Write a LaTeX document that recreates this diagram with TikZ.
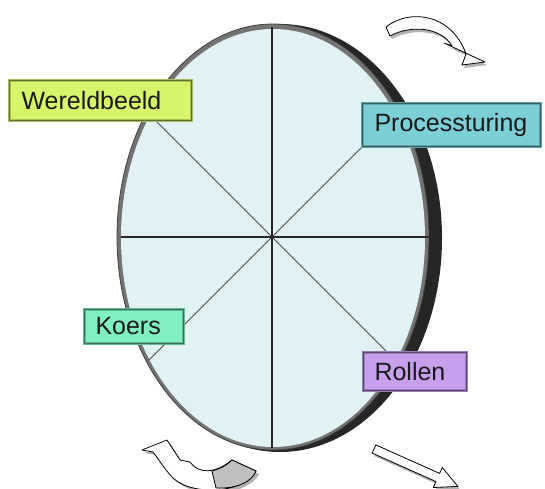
\documentclass[tikz,border=0pt]{standalone}
\usepackage{fontspec}
\setmainfont{Liberation Sans}
\definecolor{wbfill}{HTML}{D6F56B}
\definecolor{psfill}{HTML}{7DCFD6}
\definecolor{kofill}{HTML}{7FF0C0}
\definecolor{rofill}{HTML}{C6A0EC}
\definecolor{disc}{HTML}{E1F2F4}
\begin{document}
\begin{tikzpicture}[x=1pt,y=-1pt,
  lbl/.style={draw=#1!78!black, fill=#1, line width=2.4pt, inner ysep=0pt, inner xsep=12pt,
    align=left, font=\fontsize{25}{30}\selectfont, text=black!90,
    postaction={draw=#1!45!black, line width=0.6pt}},
  arrowbody/.style={fill=white, draw=black, line width=0.8pt, line join=round},
  arrowshadow/.style={fill=black!30},
  spoke/.style={draw=black!70, line width=0.8pt},
  axis/.style={draw=black!85, line width=2.2pt}]
\useasboundingbox (0,0) rectangle (545,488);
% disc
\fill[black!85] (280,238) ellipse [x radius=162, y radius=214];
\fill[black!55, draw=black!75, line width=0.8pt] (273,237) ellipse [x radius=156, y radius=213];
\fill[disc] (273,238) ellipse [x radius=152, y radius=209];
\coordinate (c) at (272,237);
\coordinate (top) at (272,27);
\coordinate (bot) at (272,448);
\coordinate (lft) at (121,237);
\coordinate (rgt) at (431,237);
\coordinate (ul) at (149,114);
\coordinate (ur) at (395,114);
\coordinate (ll) at (149,360);
\coordinate (lr) at (395,360);
\draw[spoke] (c) -- (ul);
\draw[spoke] (c) -- (ur);
\draw[spoke] (c) -- (ll);
\draw[spoke] (c) -- (lr);
\draw[axis] (top) -- (bot);
\draw[axis, line width=2pt] (lft) -- (rgt);
% labels
\node[lbl=wbfill, text width=158pt, minimum height=40pt] (wb) at (100.5,100.5) {Wereldbeeld};
\node[lbl=psfill, inner xsep=12pt, text width=154pt, minimum height=43pt] (ps) at (451.5,125) {Processturing};
\node[lbl=kofill, inner xsep=11pt, text width=77pt, minimum height=34pt] (ko) at (134,326.5) {Koers};
\node[lbl=rofill, inner xsep=11pt, text width=81pt, minimum height=38pt] (ro) at (415,371.5) {Rollen};
% top curved arrow
\begin{scope}[shift={(2,3)}]
\fill[arrowshadow] (386,27) .. controls (410,8) and (452,14) .. (466,54) -- (462,65) -- (485,62) -- (444,43) -- (452,46) .. controls (442,28) and (412,24) .. (390,36) -- cycle;
\end{scope}
\draw[arrowbody] (386,27) .. controls (410,8) and (452,14) .. (466,54) -- (462,65) -- (485,62) -- (444,43) -- (452,46) .. controls (442,28) and (412,24) .. (390,36) -- cycle;
% bottom-left curved arrow
\begin{scope}[shift={(3,3)}]
\fill[arrowshadow] (142,450) -- (167,440) -- (180,460) -- (190,462) .. controls (198,474) and (215,474) .. (232,460) -- (256,471) .. controls (246,492) and (196,497) .. (174,479) .. controls (164,469) and (158,458) .. (153,452) -- cycle;
\end{scope}
\draw[arrowbody] (142,450) -- (167,440) -- (180,460) -- (190,462) .. controls (198,474) and (215,474) .. (232,460) -- (256,471) .. controls (246,492) and (196,497) .. (174,479) .. controls (164,469) and (158,458) .. (153,452) -- cycle;
\draw[fill=black!25, draw=black, line width=0.8pt, line join=round] (212,471) .. controls (222,468) and (227,465) .. (232,460) -- (256,471) .. controls (252,482) and (236,489) .. (216,488) -- cycle;
% bottom-right straight arrow
\begin{scope}[shift={(2,3)}]
\fill[arrowshadow] (372.2,453.1) -- (375.8,444.9) -- (439.6,473.4) -- (442.3,467.5) -- (457.9,486.4) -- (433.3,487.5) -- (436,481.6) -- cycle;
\end{scope}
\draw[arrowbody] (372.2,453.1) -- (375.8,444.9) -- (439.6,473.4) -- (442.3,467.5) -- (457.9,486.4) -- (433.3,487.5) -- (436,481.6) -- cycle;
\end{tikzpicture}
\end{document}
